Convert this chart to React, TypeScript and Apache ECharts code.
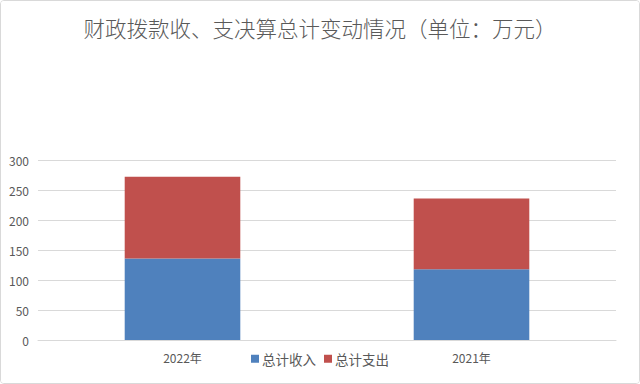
import React, { useEffect, useRef } from "react";
import * as echarts from "echarts";

const categories = ["2022年", "2021年"];
const incomeValues = [136, 118];
const expenseValues = [136, 118];
const seriesNames = ["总计收入", "总计支出"];
const titleText = "财政拨款收、支决算总计变动情况（单位：万元）";

export default function App() {
  const ref = useRef<HTMLDivElement>(null);
  useEffect(() => {
    if (!ref.current) return;
    const chart = echarts.init(ref.current, null, { renderer: "svg" });
    const font = "'Noto Sans CJK SC', 'Noto Sans', sans-serif";
    chart.setOption({
      animation: false,
      backgroundColor: "#ffffff",
      title: {
        text: titleText,
        left: "center",
        top: 11,
        textStyle: { fontSize: 21.5, fontWeight: 300, color: "#595959", fontFamily: font },
      },
      legend: {
        data: seriesNames,
        left: "center",
        top: 346,
        itemWidth: 8,
        itemHeight: 8,
        itemGap: 8,
        icon: "rect",
        textStyle: { fontSize: 13.5, color: "#595959", fontFamily: font, padding: [0, 0, 0, -2] },
      },
      grid: { left: 37, right: 23, top: 159, bottom: 43, containLabel: false },
      xAxis: {
        type: "category",
        data: categories,
        axisLine: { lineStyle: { color: "#d9d9d9" } },
        axisTick: { show: false },
        axisLabel: { color: "#595959", fontSize: 12, margin: 11, fontFamily: font },
      },
      yAxis: {
        type: "value",
        min: 0,
        max: 300,
        interval: 50,
        axisLine: { show: false },
        axisTick: { show: false },
        axisLabel: { color: "#595959", fontSize: 12, margin: 9, fontFamily: font },
        splitLine: { lineStyle: { color: "#d9d9d9" } },
      },
      series: [
        {
          name: seriesNames[0],
          type: "bar",
          stack: "total",
          data: incomeValues,
          barWidth: "40%",
          itemStyle: { color: "#4f81bd" },
        },
        {
          name: seriesNames[1],
          type: "bar",
          stack: "total",
          data: expenseValues,
          barWidth: "40%",
          itemStyle: { color: "#c0504d" },
        },
      ],
    });
    return () => chart.dispose();
  }, []);
  return (
    <div
      style={{
        position: "fixed",
        left: 0,
        top: 0,
        width: 640,
        height: 384,
        boxSizing: "border-box",
        border: "1px solid #d9d9d9",
        borderRadius: 4,
        background: "#fff",
        overflow: "hidden",
      }}
    >
      <div ref={ref} style={{ width: 638, height: 382 }} />
    </div>
  );
}
